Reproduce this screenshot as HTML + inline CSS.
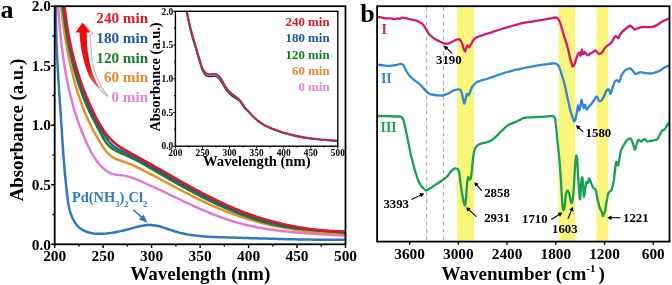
<!DOCTYPE html>
<html><head><meta charset="utf-8"><style>
html,body{margin:0;padding:0;background:#fff;width:672px;height:285px;overflow:hidden}
svg{display:block;will-change:transform}
text{font-family:"Liberation Serif",serif;font-weight:bold}
</style></head><body>
<svg width="672" height="285" viewBox="0 0 672 285" font-family="Liberation Serif" font-weight="bold"><defs><clipPath id="ca"><rect x="54.7" y="6.2" width="290.8" height="238.10000000000002"/></clipPath><clipPath id="ci"><rect x="175.4" y="11.3" width="162.4" height="134.89999999999998"/></clipPath><clipPath id="cb"><rect x="377.1" y="6.2" width="292.4" height="235.4"/></clipPath><linearGradient id="arrg" x1="0" y1="0" x2="0" y2="1"><stop offset="0" stop-color="#f00808"/><stop offset="0.7" stop-color="#ea1010"/><stop offset="1" stop-color="#f07070"/></linearGradient></defs><rect width="672" height="285" fill="#fff"/><text x="0.5" y="18.4" font-size="26" fill="#000" text-anchor="start" >a</text><g clip-path="url(#ca)" fill="none" stroke-width="2" stroke-linejoin="round" stroke-linecap="round"><path d="M55.93,2.01 L55.90,4.10 L55.88,6.18 L55.87,8.27 L55.87,10.36 L55.87,12.44 L55.88,14.53 L55.89,16.62 L55.91,18.71 L55.93,20.79 L55.97,22.88 L56.00,24.97 L56.04,27.06 L56.09,29.15 L56.14,31.24 L56.20,33.33 L56.26,35.42 L56.33,37.51 L56.40,39.59 L56.47,41.68 L56.55,43.77 L56.63,45.86 L56.72,47.95 L56.81,50.04 L56.91,52.13 L57.00,54.22 L57.11,56.31 L57.21,58.40 L57.32,60.49 L57.43,62.58 L57.54,64.67 L57.66,66.76 L57.78,68.85 L57.90,70.94 L58.02,73.03 L58.15,75.12 L58.27,77.21 L58.40,79.30 L58.53,81.39 L58.67,83.48 L58.80,85.57 L58.93,87.65 L59.07,89.74 L59.21,91.83 L59.35,93.92 L59.48,96.00 L59.62,98.09 L59.76,100.18 L59.90,102.26 L60.04,104.35 L60.18,106.43 L60.32,108.52 L60.46,110.60 L60.60,112.69 L60.74,114.77 L60.88,116.85 L61.02,118.94 L61.15,121.02 L61.29,123.10 L61.42,125.18 L61.56,127.26 L61.69,129.34 L61.82,131.43 L61.96,133.51 L62.09,135.59 L62.23,137.67 L62.37,139.75 L62.50,141.83 L62.64,143.91 L62.78,145.99 L62.92,148.07 L63.07,150.15 L63.22,152.23 L63.37,154.31 L63.52,156.39 L63.67,158.47 L63.83,160.55 L64.00,162.63 L64.16,164.72 L64.33,166.80 L64.51,168.88 L64.69,170.97 L64.87,173.06 L65.06,175.14 L65.25,177.23 L65.45,179.32 L65.66,181.41 L65.87,183.50 L66.09,185.59 L66.31,187.68 L66.54,189.77 L66.78,191.87 L67.02,193.96 L67.28,196.06 L67.54,198.16 L67.82,200.25 L68.13,202.33 L68.48,204.41 L68.87,206.47 L69.32,208.51 L69.82,210.53 L70.40,212.52 L71.05,214.49 L71.79,216.42 L72.62,218.32 L73.56,220.17 L74.61,221.98 L75.77,223.72 L77.06,225.36 L78.48,226.86 L80.04,228.20 L81.72,229.37 L83.50,230.39 L85.36,231.26 L87.28,231.99 L89.26,232.58 L91.28,233.05 L93.33,233.41 L95.42,233.66 L97.54,233.80 L99.67,233.86 L101.81,233.84 L103.95,233.74 L106.09,233.57 L108.22,233.35 L110.32,233.07 L112.41,232.76 L114.47,232.40 L116.51,232.02 L118.54,231.60 L120.55,231.15 L122.56,230.68 L124.56,230.20 L126.55,229.69 L128.55,229.18 L130.55,228.66 L132.56,228.13 L134.58,227.61 L136.61,227.08 L138.66,226.57 L140.72,226.08 L142.79,225.65 L144.86,225.30 L146.93,225.06 L148.98,224.94 L151.03,224.98 L153.06,225.14 L155.09,225.42 L157.10,225.81 L159.11,226.28 L161.11,226.83 L163.11,227.43 L165.11,228.08 L167.11,228.76 L169.10,229.45 L171.10,230.14 L173.11,230.81 L175.12,231.45 L177.14,232.04 L179.16,232.59 L181.19,233.10 L183.23,233.57 L185.27,234.00 L187.32,234.39 L189.38,234.75 L191.43,235.07 L193.50,235.36 L195.57,235.62 L197.64,235.86 L199.71,236.07 L201.79,236.26 L203.88,236.43 L205.96,236.57 L208.05,236.70 L210.14,236.82 L212.23,236.92 L214.32,237.01 L216.42,237.09 L218.51,237.16 L220.61,237.23 L222.70,237.30 L224.79,237.36 L226.89,237.42 L228.98,237.48 L231.08,237.55 L233.17,237.61 L235.26,237.67 L237.35,237.74 L239.44,237.80 L241.53,237.87 L243.63,237.93 L245.72,238.00 L247.81,238.06 L249.89,238.13 L251.98,238.19 L254.07,238.25 L256.16,238.32 L258.25,238.38 L260.34,238.44 L262.42,238.50 L264.51,238.56 L266.60,238.62 L268.69,238.68 L270.77,238.74 L272.86,238.80 L274.95,238.86 L277.03,238.91 L279.12,238.97 L281.21,239.02 L283.29,239.08 L285.38,239.13 L287.47,239.18 L289.56,239.23 L291.64,239.27 L293.73,239.32 L295.82,239.36 L297.90,239.41 L299.99,239.45 L302.08,239.48 L304.17,239.52 L306.26,239.56 L308.34,239.59 L310.43,239.62 L312.52,239.65 L314.61,239.68 L316.70,239.70 L318.79,239.72 L320.88,239.74 L322.97,239.76 L325.06,239.77 L327.16,239.79 L329.25,239.80 L331.34,239.80 L333.43,239.81 L335.53,239.81 L337.62,239.81 L339.72,239.80 L341.81,239.79 L343.91,239.78 L346.00,239.77" stroke="#2f78c4" stroke-width="2.5"/><path d="M57.78,1.98 L57.90,3.78 L58.03,5.58 L58.15,7.38 L58.29,9.18 L58.42,10.99 L58.56,12.79 L58.69,14.59 L58.84,16.39 L58.98,18.19 L59.13,19.99 L59.28,21.79 L59.44,23.59 L59.59,25.39 L59.76,27.19 L59.92,28.98 L60.09,30.78 L60.27,32.58 L60.45,34.37 L60.63,36.17 L60.82,37.96 L61.02,39.76 L61.21,41.55 L61.42,43.34 L61.63,45.13 L61.84,46.92 L62.06,48.71 L62.29,50.49 L62.52,52.28 L62.76,54.07 L63.00,55.85 L63.25,57.63 L63.51,59.41 L63.78,61.19 L64.05,62.97 L64.32,64.75 L64.61,66.52 L64.90,68.30 L65.20,70.07 L65.51,71.84 L65.82,73.61 L66.15,75.38 L66.48,77.14 L66.82,78.90 L67.16,80.67 L67.52,82.43 L67.88,84.18 L68.26,85.94 L68.64,87.69 L69.03,89.45 L69.43,91.20 L69.84,92.94 L70.26,94.69 L70.69,96.43 L71.13,98.17 L71.58,99.91 L72.03,101.65 L72.50,103.38 L72.98,105.11 L73.47,106.84 L73.97,108.57 L74.48,110.29 L75.01,112.02 L75.54,113.73 L76.09,115.45 L76.64,117.16 L77.21,118.87 L77.79,120.58 L78.38,122.29 L78.98,123.99 L79.60,125.69 L80.23,127.38 L80.87,129.08 L81.52,130.77 L82.19,132.45 L82.87,134.14 L83.56,135.82 L84.26,137.49 L84.98,139.17 L85.72,140.84 L86.46,142.51 L87.22,144.17 L88.00,145.82 L88.80,147.46 L89.62,149.09 L90.46,150.71 L91.32,152.31 L92.21,153.89 L93.13,155.44 L94.08,156.97 L95.06,158.47 L96.07,159.95 L97.12,161.39 L98.21,162.79 L99.33,164.16 L100.50,165.49 L101.71,166.78 L102.96,168.01 L104.27,169.18 L105.63,170.28 L107.04,171.28 L108.52,172.18 L110.06,172.96 L111.66,173.61 L113.34,174.12 L115.09,174.49 L116.88,174.77 L118.71,174.99 L120.55,175.18 L122.39,175.38 L124.22,175.63 L126.02,175.95 L127.77,176.36 L129.50,176.84 L131.20,177.39 L132.88,178.00 L134.54,178.64 L136.19,179.32 L137.84,180.01 L139.48,180.71 L141.12,181.41 L142.76,182.13 L144.40,182.85 L146.03,183.58 L147.67,184.32 L149.30,185.06 L150.93,185.80 L152.57,186.55 L154.20,187.31 L155.83,188.07 L157.45,188.83 L159.08,189.60 L160.71,190.37 L162.34,191.15 L163.97,191.92 L165.59,192.70 L167.22,193.48 L168.85,194.26 L170.48,195.04 L172.11,195.82 L173.73,196.60 L175.36,197.39 L176.99,198.17 L178.62,198.95 L180.25,199.72 L181.89,200.50 L183.52,201.27 L185.15,202.04 L186.79,202.81 L188.43,203.58 L190.07,204.34 L191.71,205.09 L193.35,205.85 L194.99,206.59 L196.64,207.33 L198.29,208.07 L199.94,208.80 L201.59,209.52 L203.24,210.24 L204.90,210.95 L206.56,211.65 L208.22,212.34 L209.89,213.02 L211.56,213.70 L213.23,214.36 L214.90,215.02 L216.58,215.67 L218.26,216.30 L219.95,216.93 L221.64,217.54 L223.33,218.14 L225.02,218.73 L226.72,219.31 L228.43,219.87 L230.14,220.43 L231.85,220.96 L233.57,221.49 L235.29,222.00 L237.01,222.49 L238.74,222.98 L240.48,223.44 L242.22,223.90 L243.96,224.34 L245.71,224.76 L247.46,225.18 L249.21,225.58 L250.97,225.97 L252.73,226.34 L254.49,226.71 L256.26,227.06 L258.03,227.40 L259.81,227.73 L261.58,228.05 L263.36,228.36 L265.14,228.66 L266.93,228.95 L268.71,229.23 L270.50,229.50 L272.29,229.76 L274.08,230.01 L275.88,230.25 L277.67,230.49 L279.47,230.71 L281.27,230.93 L283.07,231.14 L284.87,231.35 L286.67,231.54 L288.47,231.73 L290.28,231.91 L292.08,232.09 L293.89,232.26 L295.69,232.43 L297.50,232.59 L299.30,232.74 L301.11,232.89 L302.91,233.04 L304.72,233.18 L306.52,233.31 L308.33,233.44 L310.13,233.57 L311.94,233.70 L313.74,233.82 L315.54,233.94 L317.34,234.06 L319.14,234.17 L320.93,234.29 L322.73,234.40 L324.53,234.51 L326.32,234.61 L328.11,234.72 L329.90,234.83 L331.68,234.94 L333.47,235.04 L335.25,235.15 L337.03,235.26 L338.81,235.36 L340.58,235.47 L342.35,235.58 L344.12,235.69 L345.88,235.81" stroke="#e07ad6" stroke-width="2.5"/><path d="M60.40,2.01 L60.61,3.73 L60.82,5.46 L61.03,7.18 L61.24,8.91 L61.45,10.64 L61.67,12.36 L61.89,14.09 L62.11,15.81 L62.34,17.54 L62.56,19.27 L62.80,20.99 L63.03,22.71 L63.27,24.44 L63.51,26.16 L63.76,27.88 L64.01,29.61 L64.26,31.33 L64.52,33.05 L64.79,34.77 L65.06,36.49 L65.33,38.20 L65.61,39.92 L65.90,41.64 L66.19,43.35 L66.48,45.06 L66.78,46.77 L67.09,48.49 L67.40,50.19 L67.72,51.90 L68.05,53.61 L68.38,55.31 L68.72,57.02 L69.06,58.72 L69.42,60.42 L69.78,62.11 L70.15,63.81 L70.52,65.50 L70.90,67.19 L71.29,68.88 L71.69,70.57 L72.10,72.26 L72.51,73.94 L72.94,75.62 L73.37,77.30 L73.81,78.98 L74.26,80.65 L74.72,82.32 L75.19,83.99 L75.66,85.65 L76.15,87.32 L76.65,88.98 L77.15,90.63 L77.67,92.29 L78.20,93.94 L78.74,95.59 L79.28,97.23 L79.84,98.88 L80.41,100.51 L80.99,102.15 L81.58,103.78 L82.19,105.41 L82.80,107.04 L83.43,108.66 L84.07,110.28 L84.72,111.89 L85.38,113.50 L86.05,115.11 L86.74,116.71 L87.44,118.31 L88.15,119.90 L88.88,121.48 L89.61,123.06 L90.36,124.64 L91.13,126.21 L91.90,127.77 L92.69,129.32 L93.50,130.87 L94.32,132.40 L95.15,133.94 L95.99,135.46 L96.85,136.97 L97.73,138.48 L98.61,139.97 L99.52,141.46 L100.43,142.93 L101.37,144.40 L102.31,145.85 L103.27,147.30 L104.26,148.72 L105.28,150.11 L106.34,151.46 L107.45,152.75 L108.63,153.98 L109.88,155.13 L111.21,156.19 L112.63,157.15 L114.14,158.01 L115.73,158.78 L117.37,159.48 L119.02,160.12 L120.69,160.72 L122.36,161.30 L124.02,161.87 L125.68,162.44 L127.32,163.02 L128.95,163.63 L130.55,164.27 L132.14,164.94 L133.71,165.64 L135.27,166.37 L136.82,167.11 L138.37,167.87 L139.91,168.63 L141.45,169.41 L142.98,170.18 L144.52,170.97 L146.06,171.75 L147.59,172.54 L149.13,173.34 L150.66,174.14 L152.19,174.94 L153.73,175.75 L155.26,176.55 L156.80,177.36 L158.33,178.18 L159.86,178.99 L161.40,179.81 L162.93,180.62 L164.47,181.44 L166.00,182.26 L167.54,183.08 L169.07,183.90 L170.61,184.72 L172.15,185.54 L173.68,186.36 L175.22,187.18 L176.76,187.99 L178.30,188.81 L179.85,189.62 L181.39,190.43 L182.94,191.24 L184.48,192.05 L186.03,192.85 L187.58,193.65 L189.13,194.45 L190.68,195.25 L192.24,196.03 L193.79,196.82 L195.35,197.60 L196.91,198.38 L198.48,199.15 L200.04,199.91 L201.61,200.67 L203.18,201.43 L204.75,202.18 L206.32,202.92 L207.90,203.65 L209.48,204.38 L211.06,205.10 L212.65,205.81 L214.24,206.52 L215.83,207.21 L217.42,207.90 L219.02,208.58 L220.62,209.25 L222.23,209.91 L223.83,210.57 L225.45,211.21 L227.06,211.84 L228.68,212.46 L230.30,213.07 L231.93,213.68 L233.56,214.27 L235.19,214.85 L236.82,215.42 L238.46,215.99 L240.10,216.54 L241.75,217.08 L243.40,217.62 L245.05,218.14 L246.70,218.66 L248.36,219.17 L250.02,219.66 L251.68,220.15 L253.35,220.63 L255.01,221.10 L256.68,221.56 L258.36,222.01 L260.03,222.45 L261.71,222.88 L263.39,223.30 L265.08,223.72 L266.76,224.12 L268.45,224.52 L270.14,224.91 L271.83,225.29 L273.53,225.66 L275.23,226.02 L276.92,226.37 L278.63,226.71 L280.33,227.05 L282.03,227.38 L283.74,227.69 L285.45,228.00 L287.16,228.30 L288.87,228.60 L290.59,228.88 L292.30,229.16 L294.02,229.42 L295.74,229.68 L297.46,229.93 L299.18,230.18 L300.90,230.41 L302.63,230.64 L304.36,230.86 L306.08,231.07 L307.81,231.27 L309.54,231.47 L311.27,231.65 L313.00,231.83 L314.74,232.00 L316.47,232.17 L318.21,232.32 L319.94,232.47 L321.68,232.61 L323.42,232.74 L325.15,232.87 L326.89,232.99 L328.63,233.10 L330.37,233.20 L332.11,233.30 L333.86,233.39 L335.60,233.47 L337.34,233.54 L339.08,233.61 L340.82,233.67 L342.57,233.72 L344.31,233.76 L346.05,233.80" stroke="#ea8e2c" stroke-width="2.5"/><path d="M62.26,2.07 L62.45,3.75 L62.64,5.44 L62.84,7.12 L63.04,8.81 L63.25,10.50 L63.47,12.19 L63.68,13.88 L63.91,15.58 L64.13,17.27 L64.36,18.96 L64.60,20.66 L64.85,22.35 L65.09,24.05 L65.35,25.74 L65.61,27.44 L65.87,29.13 L66.14,30.83 L66.42,32.52 L66.70,34.22 L66.99,35.91 L67.29,37.60 L67.59,39.29 L67.90,40.99 L68.22,42.68 L68.54,44.36 L68.87,46.05 L69.21,47.74 L69.56,49.42 L69.91,51.11 L70.27,52.79 L70.64,54.47 L71.01,56.14 L71.40,57.82 L71.79,59.49 L72.19,61.16 L72.60,62.83 L73.02,64.50 L73.44,66.16 L73.88,67.82 L74.32,69.47 L74.77,71.13 L75.23,72.78 L75.70,74.43 L76.18,76.07 L76.67,77.71 L77.17,79.35 L77.68,80.98 L78.20,82.61 L78.73,84.23 L79.27,85.85 L79.81,87.47 L80.37,89.08 L80.94,90.69 L81.52,92.29 L82.11,93.89 L82.72,95.48 L83.33,97.07 L83.95,98.66 L84.59,100.23 L85.24,101.81 L85.89,103.37 L86.56,104.93 L87.25,106.49 L87.94,108.04 L88.64,109.58 L89.36,111.12 L90.09,112.65 L90.83,114.18 L91.58,115.71 L92.34,117.23 L93.11,118.75 L93.89,120.26 L94.67,121.78 L95.46,123.30 L96.26,124.82 L97.06,126.34 L97.86,127.86 L98.67,129.39 L99.49,130.92 L100.30,132.46 L101.12,134.00 L101.94,135.55 L102.76,137.10 L103.61,138.64 L104.49,140.14 L105.41,141.59 L106.40,142.97 L107.46,144.27 L108.60,145.47 L109.82,146.58 L111.10,147.62 L112.45,148.58 L113.86,149.48 L115.31,150.32 L116.80,151.11 L118.33,151.87 L119.89,152.59 L121.47,153.29 L123.06,153.98 L124.66,154.66 L126.26,155.34 L127.85,156.03 L129.43,156.74 L131.00,157.47 L132.54,158.21 L134.08,158.98 L135.60,159.76 L137.11,160.55 L138.61,161.36 L140.11,162.18 L141.59,163.01 L143.07,163.85 L144.55,164.69 L146.02,165.54 L147.49,166.40 L148.95,167.26 L150.42,168.12 L151.89,168.98 L153.36,169.84 L154.83,170.70 L156.30,171.56 L157.77,172.42 L159.25,173.28 L160.72,174.14 L162.20,175.00 L163.68,175.85 L165.16,176.71 L166.64,177.56 L168.13,178.41 L169.61,179.26 L171.10,180.11 L172.59,180.96 L174.08,181.80 L175.58,182.64 L177.07,183.48 L178.57,184.32 L180.06,185.15 L181.56,185.99 L183.07,186.82 L184.57,187.64 L186.08,188.46 L187.58,189.28 L189.09,190.10 L190.61,190.91 L192.12,191.72 L193.64,192.52 L195.16,193.32 L196.68,194.12 L198.20,194.91 L199.73,195.70 L201.25,196.48 L202.78,197.25 L204.32,198.03 L205.85,198.79 L207.39,199.56 L208.93,200.31 L210.47,201.06 L212.01,201.81 L213.56,202.55 L215.11,203.28 L216.66,204.01 L218.21,204.73 L219.77,205.45 L221.33,206.15 L222.89,206.86 L224.46,207.55 L226.03,208.24 L227.60,208.92 L229.17,209.59 L230.75,210.26 L232.33,210.92 L233.91,211.57 L235.50,212.21 L237.08,212.85 L238.68,213.47 L240.27,214.09 L241.87,214.70 L243.47,215.30 L245.07,215.90 L246.68,216.48 L248.29,217.05 L249.90,217.61 L251.52,218.16 L253.14,218.71 L254.76,219.24 L256.38,219.76 L258.01,220.27 L259.65,220.76 L261.28,221.25 L262.92,221.72 L264.56,222.18 L266.21,222.63 L267.86,223.07 L269.51,223.49 L271.17,223.90 L272.83,224.30 L274.50,224.68 L276.16,225.05 L277.83,225.41 L279.51,225.75 L281.19,226.08 L282.87,226.39 L284.56,226.68 L286.25,226.97 L287.94,227.23 L289.64,227.49 L291.33,227.73 L293.04,227.97 L294.74,228.19 L296.45,228.40 L298.15,228.60 L299.86,228.79 L301.58,228.98 L303.29,229.16 L305.00,229.33 L306.72,229.49 L308.43,229.65 L310.15,229.80 L311.87,229.95 L313.58,230.09 L315.30,230.23 L317.02,230.37 L318.73,230.50 L320.45,230.63 L322.16,230.77 L323.88,230.90 L325.59,231.03 L327.30,231.17 L329.01,231.30 L330.72,231.44 L332.42,231.58 L334.13,231.73 L335.83,231.88 L337.53,232.03 L339.22,232.19 L340.91,232.35 L342.60,232.52 L344.29,232.70 L345.97,232.89" stroke="#17802a" stroke-width="2.6"/><path d="M63.21,2.04 L63.39,3.72 L63.57,5.40 L63.76,7.09 L63.96,8.77 L64.15,10.46 L64.36,12.14 L64.57,13.82 L64.79,15.51 L65.01,17.19 L65.24,18.88 L65.47,20.56 L65.71,22.24 L65.96,23.93 L66.22,25.61 L66.48,27.29 L66.74,28.97 L67.02,30.65 L67.30,32.33 L67.59,34.01 L67.88,35.69 L68.18,37.37 L68.49,39.04 L68.81,40.72 L69.13,42.39 L69.47,44.06 L69.80,45.73 L70.15,47.40 L70.51,49.07 L70.87,50.73 L71.24,52.39 L71.62,54.05 L72.01,55.71 L72.40,57.37 L72.80,59.02 L73.22,60.68 L73.64,62.32 L74.07,63.97 L74.50,65.62 L74.95,67.26 L75.41,68.90 L75.87,70.53 L76.35,72.16 L76.83,73.79 L77.32,75.42 L77.82,77.05 L78.33,78.67 L78.86,80.28 L79.39,81.90 L79.93,83.51 L80.48,85.11 L81.04,86.71 L81.61,88.31 L82.19,89.91 L82.78,91.50 L83.38,93.08 L83.99,94.67 L84.61,96.24 L85.25,97.82 L85.89,99.39 L86.54,100.95 L87.21,102.51 L87.89,104.07 L88.57,105.62 L89.27,107.16 L89.98,108.70 L90.70,110.24 L91.44,111.77 L92.18,113.30 L92.94,114.82 L93.70,116.33 L94.48,117.84 L95.27,119.34 L96.07,120.84 L96.89,122.34 L97.71,123.82 L98.55,125.30 L99.40,126.78 L100.26,128.25 L101.13,129.71 L102.02,131.17 L102.91,132.63 L103.82,134.07 L104.74,135.51 L105.67,136.95 L106.62,138.37 L107.60,139.76 L108.62,141.11 L109.69,142.41 L110.82,143.64 L112.02,144.79 L113.29,145.86 L114.62,146.85 L116.01,147.78 L117.45,148.66 L118.93,149.49 L120.44,150.28 L121.97,151.04 L123.52,151.79 L125.08,152.52 L126.64,153.24 L128.20,153.98 L129.74,154.72 L131.27,155.48 L132.80,156.25 L134.31,157.02 L135.81,157.81 L137.31,158.60 L138.80,159.41 L140.28,160.22 L141.76,161.04 L143.23,161.86 L144.70,162.69 L146.17,163.52 L147.63,164.36 L149.10,165.20 L150.56,166.04 L152.02,166.88 L153.49,167.73 L154.96,168.57 L156.42,169.42 L157.89,170.27 L159.36,171.12 L160.82,171.97 L162.29,172.83 L163.76,173.68 L165.24,174.53 L166.71,175.38 L168.18,176.23 L169.65,177.09 L171.13,177.94 L172.61,178.79 L174.08,179.63 L175.56,180.48 L177.04,181.33 L178.53,182.17 L180.01,183.01 L181.50,183.85 L182.98,184.69 L184.47,185.53 L185.96,186.36 L187.45,187.19 L188.94,188.01 L190.44,188.84 L191.94,189.66 L193.44,190.47 L194.94,191.28 L196.44,192.09 L197.95,192.90 L199.45,193.69 L200.96,194.49 L202.48,195.28 L203.99,196.06 L205.51,196.84 L207.03,197.61 L208.55,198.38 L210.07,199.14 L211.60,199.90 L213.13,200.64 L214.66,201.39 L216.20,202.12 L217.74,202.85 L219.28,203.57 L220.82,204.28 L222.37,204.99 L223.92,205.69 L225.47,206.38 L227.03,207.06 L228.59,207.73 L230.15,208.40 L231.72,209.05 L233.29,209.70 L234.86,210.34 L236.44,210.97 L238.02,211.59 L239.60,212.20 L241.19,212.80 L242.78,213.39 L244.37,213.97 L245.97,214.54 L247.57,215.11 L249.17,215.66 L250.78,216.21 L252.38,216.74 L254.00,217.27 L255.61,217.78 L257.23,218.29 L258.85,218.79 L260.47,219.28 L262.10,219.76 L263.73,220.23 L265.36,220.69 L267.00,221.14 L268.63,221.58 L270.27,222.01 L271.92,222.44 L273.56,222.85 L275.21,223.26 L276.86,223.65 L278.51,224.04 L280.16,224.42 L281.82,224.79 L283.48,225.14 L285.14,225.49 L286.81,225.83 L288.47,226.17 L290.14,226.49 L291.81,226.80 L293.48,227.10 L295.15,227.40 L296.83,227.68 L298.51,227.96 L300.19,228.23 L301.87,228.48 L303.55,228.73 L305.24,228.97 L306.92,229.20 L308.61,229.42 L310.30,229.64 L311.99,229.84 L313.68,230.03 L315.38,230.22 L317.07,230.39 L318.77,230.56 L320.47,230.71 L322.17,230.86 L323.87,231.00 L325.57,231.13 L327.28,231.25 L328.98,231.36 L330.69,231.46 L332.39,231.56 L334.10,231.64 L335.81,231.71 L337.52,231.78 L339.23,231.84 L340.94,231.88 L342.65,231.92 L344.37,231.95 L346.08,231.97" stroke="#22559e" stroke-width="2.2"/><path d="M64.20,1.98 L64.35,3.67 L64.51,5.36 L64.68,7.05 L64.86,8.74 L65.05,10.43 L65.24,12.11 L65.44,13.79 L65.64,15.47 L65.86,17.15 L66.08,18.83 L66.31,20.51 L66.55,22.19 L66.80,23.86 L67.05,25.53 L67.31,27.20 L67.58,28.87 L67.86,30.54 L68.14,32.20 L68.44,33.86 L68.74,35.53 L69.05,37.19 L69.37,38.84 L69.69,40.50 L70.03,42.15 L70.37,43.80 L70.72,45.45 L71.08,47.10 L71.45,48.74 L71.82,50.39 L72.21,52.03 L72.60,53.67 L73.01,55.30 L73.42,56.94 L73.84,58.57 L74.26,60.20 L74.70,61.82 L75.15,63.45 L75.60,65.07 L76.06,66.69 L76.53,68.31 L77.02,69.92 L77.51,71.53 L78.01,73.14 L78.51,74.75 L79.03,76.36 L79.56,77.96 L80.09,79.56 L80.64,81.15 L81.19,82.75 L81.75,84.34 L82.33,85.92 L82.91,87.51 L83.50,89.09 L84.10,90.67 L84.71,92.25 L85.33,93.82 L85.96,95.39 L86.60,96.96 L87.25,98.52 L87.91,100.08 L88.58,101.64 L89.25,103.19 L89.94,104.74 L90.64,106.29 L91.35,107.84 L92.06,109.38 L92.79,110.92 L93.53,112.45 L94.28,113.98 L95.04,115.50 L95.81,117.02 L96.60,118.53 L97.41,120.03 L98.23,121.51 L99.06,122.99 L99.92,124.45 L100.79,125.90 L101.68,127.34 L102.60,128.75 L103.53,130.16 L104.49,131.54 L105.47,132.90 L106.47,134.25 L107.50,135.57 L108.56,136.86 L109.65,138.13 L110.77,139.36 L111.93,140.55 L113.13,141.70 L114.38,142.80 L115.67,143.85 L117.00,144.85 L118.37,145.82 L119.76,146.75 L121.18,147.66 L122.62,148.54 L124.08,149.39 L125.55,150.24 L127.03,151.07 L128.51,151.89 L129.99,152.71 L131.46,153.53 L132.94,154.35 L134.42,155.17 L135.89,155.98 L137.36,156.80 L138.84,157.61 L140.31,158.43 L141.78,159.24 L143.25,160.05 L144.72,160.87 L146.19,161.69 L147.66,162.51 L149.13,163.33 L150.60,164.15 L152.07,164.97 L153.53,165.80 L155.00,166.63 L156.47,167.46 L157.94,168.29 L159.40,169.13 L160.87,169.96 L162.34,170.80 L163.80,171.64 L165.27,172.47 L166.74,173.31 L168.21,174.15 L169.68,174.99 L171.14,175.83 L172.61,176.67 L174.08,177.51 L175.56,178.35 L177.03,179.18 L178.50,180.02 L179.97,180.85 L181.45,181.69 L182.92,182.52 L184.40,183.35 L185.88,184.18 L187.36,185.00 L188.84,185.82 L190.32,186.64 L191.81,187.46 L193.29,188.27 L194.78,189.09 L196.27,189.89 L197.76,190.70 L199.25,191.50 L200.74,192.29 L202.24,193.08 L203.74,193.87 L205.24,194.65 L206.74,195.43 L208.24,196.20 L209.75,196.97 L211.26,197.73 L212.77,198.49 L214.29,199.24 L215.80,199.98 L217.32,200.72 L218.85,201.45 L220.37,202.18 L221.90,202.89 L223.43,203.61 L224.96,204.31 L226.50,205.01 L228.04,205.69 L229.59,206.38 L231.13,207.05 L232.68,207.71 L234.24,208.37 L235.79,209.02 L237.35,209.65 L238.92,210.28 L240.49,210.90 L242.06,211.52 L243.63,212.12 L245.21,212.71 L246.79,213.30 L248.37,213.88 L249.96,214.45 L251.55,215.00 L253.15,215.55 L254.74,216.10 L256.34,216.63 L257.95,217.15 L259.55,217.66 L261.16,218.17 L262.77,218.66 L264.39,219.15 L266.00,219.63 L267.62,220.10 L269.25,220.56 L270.87,221.01 L272.50,221.45 L274.13,221.88 L275.76,222.30 L277.40,222.72 L279.03,223.12 L280.67,223.52 L282.32,223.90 L283.96,224.28 L285.61,224.65 L287.26,225.00 L288.91,225.35 L290.56,225.69 L292.22,226.02 L293.88,226.34 L295.54,226.65 L297.20,226.95 L298.86,227.24 L300.53,227.53 L302.20,227.80 L303.87,228.06 L305.54,228.31 L307.21,228.56 L308.88,228.79 L310.56,229.02 L312.24,229.23 L313.92,229.44 L315.60,229.63 L317.28,229.82 L318.96,230.00 L320.65,230.16 L322.34,230.32 L324.02,230.47 L325.71,230.60 L327.40,230.73 L329.10,230.85 L330.79,230.96 L332.48,231.05 L334.18,231.14 L335.87,231.22 L337.57,231.29 L339.27,231.35 L340.97,231.39 L342.67,231.43 L344.37,231.46 L346.07,231.48" stroke="#da1c22" stroke-width="2.6"/></g><rect x="54.7" y="6.2" width="290.8" height="238.10000000000002" fill="none" stroke="#000" stroke-width="1.8"/><path d="M54.70,244.3 V247.9 M78.93,244.3 V246.5 M103.17,244.3 V247.9 M127.40,244.3 V246.5 M151.63,244.3 V247.9 M175.87,244.3 V246.5 M200.10,244.3 V247.9 M224.33,244.3 V246.5 M248.57,244.3 V247.9 M272.80,244.3 V246.5 M297.03,244.3 V247.9 M321.27,244.3 V246.5 M345.50,244.3 V247.9 M54.7,244.30 H51.1 M54.7,214.54 H52.5 M54.7,184.78 H51.1 M54.7,155.01 H52.5 M54.7,125.25 H51.1 M54.7,95.49 H52.5 M54.7,65.72 H51.1 M54.7,35.96 H52.5 M54.7,6.20 H51.1" stroke="#000" stroke-width="1.4" fill="none"/><text x="54.70" y="261.0" font-size="15.4" fill="#000" text-anchor="middle" >200</text><text x="103.17" y="261.0" font-size="15.4" fill="#000" text-anchor="middle" >250</text><text x="151.63" y="261.0" font-size="15.4" fill="#000" text-anchor="middle" >300</text><text x="200.10" y="261.0" font-size="15.4" fill="#000" text-anchor="middle" >350</text><text x="248.57" y="261.0" font-size="15.4" fill="#000" text-anchor="middle" >400</text><text x="297.03" y="261.0" font-size="15.4" fill="#000" text-anchor="middle" >450</text><text x="345.50" y="261.0" font-size="15.4" fill="#000" text-anchor="middle" >500</text><text x="51.0" y="249.50" font-size="15.4" fill="#000" text-anchor="end" >0.0</text><text x="51.0" y="189.97" font-size="15.4" fill="#000" text-anchor="end" >0.5</text><text x="51.0" y="130.45" font-size="15.4" fill="#000" text-anchor="end" >1.0</text><text x="51.0" y="70.92" font-size="15.4" fill="#000" text-anchor="end" >1.5</text><text x="51.0" y="11.40" font-size="15.4" fill="#000" text-anchor="end" >2.0</text><text x="200.3" y="279.7" font-size="19.0" fill="#000" text-anchor="middle" >Wavelength (nm)</text><text x="0" y="0" font-size="18.8" fill="#000" text-anchor="middle" transform="translate(22.6,130) rotate(-90)">Absorbance (a.u.)</text><text x="148.2" y="23.40" font-size="15.2" fill="#dc1a22" text-anchor="end" >240 min</text><text x="148.2" y="43.00" font-size="15.2" fill="#1f58a0" text-anchor="end" >180 min</text><text x="148.2" y="62.60" font-size="15.2" fill="#178023" text-anchor="end" >120 min</text><text x="148.2" y="82.20" font-size="15.2" fill="#e88a2c" text-anchor="end" >60 min</text><text x="148.2" y="101.80" font-size="15.2" fill="#e486d6" text-anchor="end" >0 min</text><path d="M83.8,24 L92.6,33.4 L90.2,34.6 C90.4,46 91,58 94,69 C97,80 101.5,89 108,95.8 L107.2,96.2 C100.5,91.5 96,85 93,78" fill="none" stroke="#b8b8b8" stroke-width="1.1" stroke-linejoin="round"/><path d="M82.5,22.6 L90.2,32.6 L86.6,32.6 C86.8,46 88,58 91.5,70 C93.5,77 96.5,83 100.4,88.6 C96,86.5 92.5,82 89.5,77 C85.5,68 81.8,55 80.6,44 C79.9,39 79.6,36 79.6,32.6 L75.5,32.6 Z" fill="url(#arrg)"/><text x="72" y="202.4" font-size="14.4" fill="#2f78c4">Pd(NH<tspan font-size="8.6" dy="4.4">3</tspan><tspan dy="-4.4">)</tspan><tspan font-size="8.6" dy="4.4">2</tspan><tspan dy="-4.4">Cl</tspan><tspan font-size="8.6" dy="4.4">2</tspan></text><path d="M133.5,209.8 L143.5,219" stroke="#2f78c4" stroke-width="1.6" fill="none"/><path d="M147.5,222.8 L138.8,219.6 L143.6,214.4 Z" fill="#2f78c4"/><rect x="175.4" y="11.3" width="162.4" height="134.89999999999998" fill="#fff"/><g clip-path="url(#ci)" fill="none" stroke-linejoin="round"><path d="M186.20,10.30 C186.58,12.13 187.80,18.05 188.50,21.30 C189.20,24.55 189.65,26.80 190.40,29.80 C191.15,32.80 192.07,36.05 193.00,39.30 C193.93,42.55 195.12,46.30 196.00,49.30 C196.88,52.30 197.58,54.88 198.30,57.30 C199.02,59.72 199.65,61.72 200.30,63.80 C200.95,65.88 201.50,68.13 202.20,69.80 C202.90,71.47 203.75,72.80 204.50,73.80 C205.25,74.80 205.95,75.35 206.70,75.80 C207.45,76.25 208.12,76.42 209.00,76.50 C209.88,76.58 210.92,76.33 212.00,76.30 C213.08,76.27 214.42,76.00 215.50,76.30 C216.58,76.60 217.50,77.20 218.50,78.10 C219.50,79.00 220.58,80.37 221.50,81.70 C222.42,83.03 223.08,84.58 224.00,86.10 C224.92,87.62 226.00,89.46 227.00,90.80 C228.00,92.14 229.00,93.20 230.00,94.15 C231.00,95.10 232.00,95.80 233.00,96.53 C234.00,97.25 235.00,97.81 236.00,98.50 C237.00,99.19 238.00,99.72 239.00,100.68 C240.00,101.64 241.00,102.94 242.00,104.25 C243.00,105.56 244.00,107.34 245.00,108.53 C246.00,109.72 246.92,110.30 248.00,111.41 C249.08,112.51 250.33,113.94 251.50,115.14 C252.67,116.34 253.65,117.41 255.00,118.61 C256.35,119.80 258.10,121.19 259.60,122.31 C261.10,123.42 262.60,124.51 264.00,125.31 C265.40,126.11 266.17,126.32 268.00,127.11 C269.83,127.89 272.33,129.01 275.00,130.01 C277.67,131.01 280.42,132.06 284.00,133.11 C287.58,134.16 291.78,135.34 296.50,136.31 C301.22,137.27 307.05,138.22 312.30,138.91 C317.55,139.59 323.72,140.04 328.00,140.41 C332.28,140.77 336.33,140.99 338.00,141.11" stroke="#1e2444" stroke-width="1.7"/><path d="M186.20,9.20 C186.58,11.03 187.80,16.95 188.50,20.20 C189.20,23.45 189.65,25.70 190.40,28.70 C191.15,31.70 192.07,34.95 193.00,38.20 C193.93,41.45 195.12,45.20 196.00,48.20 C196.88,51.20 197.58,53.78 198.30,56.20 C199.02,58.62 199.65,60.62 200.30,62.70 C200.95,64.78 201.50,67.03 202.20,68.70 C202.90,70.37 203.75,71.70 204.50,72.70 C205.25,73.70 205.95,74.25 206.70,74.70 C207.45,75.15 208.12,75.32 209.00,75.40 C209.88,75.48 210.92,75.23 212.00,75.20 C213.08,75.17 214.42,74.90 215.50,75.20 C216.58,75.50 217.50,76.10 218.50,77.00 C219.50,77.90 220.58,79.27 221.50,80.60 C222.42,81.93 223.08,83.48 224.00,85.00 C224.92,86.52 226.00,88.35 227.00,89.70 C228.00,91.05 229.00,92.14 230.00,93.12 C231.00,94.11 232.00,94.84 233.00,95.60 C234.00,96.37 235.00,96.96 236.00,97.69 C237.00,98.42 238.00,98.98 239.00,99.97 C240.00,100.97 241.00,102.31 242.00,103.65 C243.00,105.00 244.00,106.81 245.00,108.04 C246.00,109.26 246.92,109.88 248.00,111.02 C249.08,112.16 250.33,113.66 251.50,114.88 C252.67,116.11 253.65,117.17 255.00,118.36 C256.35,119.56 258.10,120.95 259.60,122.06 C261.10,123.18 262.60,124.26 264.00,125.06 C265.40,125.86 266.17,126.08 268.00,126.86 C269.83,127.65 272.33,128.76 275.00,129.76 C277.67,130.76 280.42,131.81 284.00,132.86 C287.58,133.91 291.78,135.10 296.50,136.06 C301.22,137.03 307.05,137.98 312.30,138.66 C317.55,139.35 323.72,139.80 328.00,140.16 C332.28,140.53 336.33,140.75 338.00,140.86" stroke="#7c96d0" stroke-width="1.2"/><path d="M186.20,8.00 C186.58,9.83 187.80,15.75 188.50,19.00 C189.20,22.25 189.65,24.50 190.40,27.50 C191.15,30.50 192.07,33.75 193.00,37.00 C193.93,40.25 195.12,44.00 196.00,47.00 C196.88,50.00 197.58,52.58 198.30,55.00 C199.02,57.42 199.65,59.42 200.30,61.50 C200.95,63.58 201.50,65.83 202.20,67.50 C202.90,69.17 203.75,70.50 204.50,71.50 C205.25,72.50 205.95,73.05 206.70,73.50 C207.45,73.95 208.12,74.12 209.00,74.20 C209.88,74.28 210.92,74.03 212.00,74.00 C213.08,73.97 214.42,73.70 215.50,74.00 C216.58,74.30 217.50,74.90 218.50,75.80 C219.50,76.70 220.58,78.07 221.50,79.40 C222.42,80.73 223.08,82.28 224.00,83.80 C224.92,85.32 226.00,87.13 227.00,88.50 C228.00,89.87 229.00,90.98 230.00,92.00 C231.00,93.02 232.00,93.80 233.00,94.60 C234.00,95.40 235.00,96.03 236.00,96.80 C237.00,97.57 238.00,98.17 239.00,99.20 C240.00,100.23 241.00,101.62 242.00,103.00 C243.00,104.38 244.00,106.23 245.00,107.50 C246.00,108.77 246.92,109.42 248.00,110.60 C249.08,111.78 250.33,113.35 251.50,114.60 C252.67,115.85 253.65,116.90 255.00,118.10 C256.35,119.30 258.10,120.68 259.60,121.80 C261.10,122.92 262.60,124.00 264.00,124.80 C265.40,125.60 266.17,125.82 268.00,126.60 C269.83,127.38 272.33,128.50 275.00,129.50 C277.67,130.50 280.42,131.55 284.00,132.60 C287.58,133.65 291.78,134.83 296.50,135.80 C301.22,136.77 307.05,137.72 312.30,138.40 C317.55,139.08 323.72,139.53 328.00,139.90 C332.28,140.27 336.33,140.48 338.00,140.60" stroke="#b82a3c" stroke-width="1.9"/></g><rect x="175.4" y="11.3" width="162.4" height="134.89999999999998" fill="none" stroke="#000" stroke-width="1.4"/><path d="M175.40,146.2 V148.39999999999998 M188.93,146.2 V147.6 M202.47,146.2 V148.39999999999998 M216.00,146.2 V147.6 M229.53,146.2 V148.39999999999998 M243.07,146.2 V147.6 M256.60,146.2 V148.39999999999998 M270.13,146.2 V147.6 M283.67,146.2 V148.39999999999998 M297.20,146.2 V147.6 M310.73,146.2 V148.39999999999998 M324.27,146.2 V147.6 M337.80,146.2 V148.39999999999998 M175.4,146.20 H173.20000000000002 M175.4,129.34 H174.0 M175.4,112.47 H173.20000000000002 M175.4,95.61 H174.0 M175.4,78.75 H173.20000000000002 M175.4,61.89 H174.0 M175.4,45.03 H173.20000000000002 M175.4,28.16 H174.0 M175.4,11.30 H173.20000000000002" stroke="#000" stroke-width="1.1" fill="none"/><text x="175.40" y="155.7" font-size="9.4" fill="#000" text-anchor="middle" >200</text><text x="202.47" y="155.7" font-size="9.4" fill="#000" text-anchor="middle" >250</text><text x="229.53" y="155.7" font-size="9.4" fill="#000" text-anchor="middle" >300</text><text x="256.60" y="155.7" font-size="9.4" fill="#000" text-anchor="middle" >350</text><text x="283.67" y="155.7" font-size="9.4" fill="#000" text-anchor="middle" >400</text><text x="310.73" y="155.7" font-size="9.4" fill="#000" text-anchor="middle" >450</text><text x="337.80" y="155.7" font-size="9.4" fill="#000" text-anchor="middle" >500</text><text x="173.2" y="149.40" font-size="9.4" fill="#000" text-anchor="end" >0.0</text><text x="173.2" y="115.67" font-size="9.4" fill="#000" text-anchor="end" >0.5</text><text x="173.2" y="81.95" font-size="9.4" fill="#000" text-anchor="end" >1.0</text><text x="173.2" y="48.23" font-size="9.4" fill="#000" text-anchor="end" >1.5</text><text x="173.2" y="14.50" font-size="9.4" fill="#000" text-anchor="end" >2.0</text><text x="256.8" y="166.2" font-size="14.6" fill="#000" text-anchor="middle" >Wavelength (nm)</text><text x="0" y="0" font-size="14.4" fill="#000" text-anchor="middle" transform="translate(160.4,77) rotate(-90)">Absorbance (a.u.)</text><text x="329.6" y="25.90" font-size="12.9" fill="#dc1a22" text-anchor="end" >240 min</text><text x="329.6" y="42.20" font-size="12.9" fill="#1f58a0" text-anchor="end" >180 min</text><text x="329.6" y="58.50" font-size="12.9" fill="#178023" text-anchor="end" >120 min</text><text x="329.6" y="74.80" font-size="12.9" fill="#e88a2c" text-anchor="end" >60 min</text><text x="329.6" y="91.10" font-size="12.9" fill="#e486d6" text-anchor="end" >0 min</text><text x="360.2" y="21.6" font-size="26" fill="#000" text-anchor="start" >b</text><rect x="457.1" y="6.2" width="16.90" height="235.4" fill="#faf67c"/><rect x="558.6" y="6.2" width="16.60" height="235.4" fill="#faf67c"/><rect x="596.4" y="6.2" width="11.80" height="235.4" fill="#faf67c"/><path d="M426.7,6.9 V241.6" stroke="#a0a0a0" stroke-width="1.0" stroke-dasharray="3.7,3.7" fill="none"/><path d="M443.6,6.9 V241.6" stroke="#a0a0a0" stroke-width="1.0" stroke-dasharray="3.7,3.7" fill="none"/><g clip-path="url(#cb)" fill="none" stroke-width="2.3" stroke-linejoin="round" stroke-linecap="round"><path d="M377.10,16.80 C377.81,16.92 381.04,17.49 382.40,17.70 C383.76,17.91 386.15,18.31 387.30,18.40 C388.45,18.49 390.01,18.29 391.00,18.40 C391.99,18.51 393.82,19.20 394.70,19.20 C395.58,19.20 396.95,18.44 397.60,18.40 C398.25,18.36 399.01,18.99 399.60,18.90 C400.19,18.81 401.35,17.83 402.00,17.70 C402.65,17.57 403.83,17.81 404.50,17.90 C405.17,17.99 406.35,18.23 407.00,18.40 C407.65,18.57 408.75,19.03 409.40,19.20 C410.05,19.37 411.25,19.58 411.90,19.70 C412.55,19.82 413.58,19.94 414.30,20.10 C415.02,20.26 416.65,20.63 417.30,20.90 C417.95,21.17 418.61,21.77 419.20,22.10 C419.79,22.43 421.05,22.91 421.70,23.40 C422.35,23.89 423.45,24.89 424.10,25.80 C424.75,26.71 425.93,29.08 426.60,30.20 C427.27,31.32 428.29,33.25 429.10,34.20 C429.91,35.15 431.73,36.55 432.70,37.30 C433.67,38.05 435.41,39.20 436.40,39.80 C437.39,40.40 438.99,41.29 440.10,41.80 C441.21,42.31 443.71,43.36 444.70,43.60 C445.69,43.84 446.83,43.68 447.50,43.60 C448.17,43.52 449.10,43.24 449.70,43.00 C450.30,42.76 451.35,42.13 452.00,41.80 C452.65,41.47 453.87,40.82 454.60,40.50 C455.33,40.18 456.85,39.55 457.50,39.40 C458.15,39.25 459.03,39.19 459.50,39.40 C459.97,39.61 460.61,40.36 461.00,41.00 C461.39,41.64 462.03,43.13 462.40,44.20 C462.77,45.27 463.47,48.01 463.80,49.00 C464.13,49.99 464.61,51.60 464.90,51.60 C465.19,51.60 465.68,49.81 466.00,49.00 C466.32,48.19 466.99,45.87 467.30,45.50 C467.61,45.13 468.03,45.97 468.30,46.20 C468.57,46.43 469.01,47.36 469.30,47.20 C469.59,47.04 470.17,45.56 470.50,45.00 C470.83,44.44 471.40,43.67 471.80,43.00 C472.20,42.33 473.01,40.65 473.50,40.00 C473.99,39.35 474.83,38.55 475.50,38.10 C476.17,37.65 477.69,36.93 478.50,36.60 C479.31,36.27 480.73,35.89 481.60,35.60 C482.47,35.31 484.01,34.72 485.00,34.40 C485.99,34.08 487.73,33.63 489.00,33.20 C490.27,32.77 493.03,31.69 494.50,31.20 C495.97,30.71 497.93,30.11 500.00,29.50 C502.07,28.89 507.39,27.36 510.00,26.60 C512.61,25.84 516.67,24.47 519.60,23.80 C522.53,23.13 528.73,22.15 532.00,21.60 C535.27,21.05 541.70,20.10 544.10,19.70 C546.50,19.30 548.52,18.89 550.00,18.60 C551.48,18.31 554.20,17.55 555.20,17.50 C556.20,17.45 556.94,17.73 557.50,18.20 C558.06,18.67 558.93,20.03 559.40,21.00 C559.87,21.97 560.57,24.17 561.00,25.50 C561.43,26.83 562.16,29.47 562.60,31.00 C563.04,32.53 563.85,35.56 564.30,37.00 C564.75,38.44 565.51,40.20 566.00,41.80 C566.49,43.40 567.51,47.04 568.00,49.00 C568.49,50.96 569.27,54.77 569.70,56.50 C570.13,58.23 570.81,60.69 571.20,62.00 C571.59,63.31 572.25,65.79 572.60,66.30 C572.95,66.81 573.51,66.17 573.80,65.80 C574.09,65.43 574.51,64.34 574.80,63.50 C575.09,62.66 575.71,60.43 576.00,59.50 C576.29,58.57 576.73,57.26 577.00,56.50 C577.27,55.74 577.73,54.29 578.00,53.80 C578.27,53.31 578.73,52.64 579.00,52.80 C579.27,52.96 579.77,54.67 580.00,55.00 C580.23,55.33 580.45,56.03 580.70,55.30 C580.95,54.57 581.62,49.70 581.90,49.50 C582.18,49.30 582.56,53.20 582.80,53.80 C583.04,54.40 583.46,54.24 583.70,54.00 C583.94,53.76 584.35,52.16 584.60,52.00 C584.85,51.84 585.28,52.43 585.60,52.80 C585.92,53.17 586.67,54.47 587.00,54.80 C587.33,55.13 587.70,55.43 588.10,55.30 C588.50,55.17 589.51,54.13 590.00,53.80 C590.49,53.47 591.33,53.07 591.80,52.80 C592.27,52.53 593.01,52.12 593.50,51.80 C593.99,51.48 594.99,50.31 595.50,50.40 C596.01,50.49 596.82,52.02 597.30,52.50 C597.78,52.98 598.61,53.91 599.10,54.00 C599.59,54.09 600.51,53.52 601.00,53.20 C601.49,52.88 602.28,52.31 602.80,51.60 C603.32,50.89 604.34,48.65 604.90,47.90 C605.46,47.15 606.35,46.49 607.00,46.00 C607.65,45.51 609.20,44.67 609.80,44.20 C610.40,43.73 611.11,42.99 611.50,42.50 C611.89,42.01 612.27,41.25 612.70,40.50 C613.13,39.75 614.23,37.46 614.70,36.90 C615.17,36.34 615.71,36.14 616.20,36.30 C616.69,36.46 617.87,38.34 618.40,38.10 C618.93,37.86 619.71,35.33 620.20,34.50 C620.69,33.67 621.46,32.57 622.10,31.90 C622.74,31.23 624.01,30.31 625.00,29.50 C625.99,28.69 628.57,26.13 629.50,25.80 C630.43,25.47 631.35,26.51 632.00,27.00 C632.65,27.49 633.73,29.29 634.40,29.50 C635.07,29.71 636.01,28.93 637.00,28.60 C637.99,28.27 640.60,27.21 641.80,27.00 C643.00,26.79 644.69,27.00 646.00,27.00 C647.31,27.00 650.27,27.19 651.60,27.00 C652.93,26.81 654.69,26.25 656.00,25.60 C657.31,24.95 660.20,22.81 661.40,22.10 C662.60,21.39 663.92,20.79 665.00,20.30 C666.08,19.81 668.90,18.65 669.50,18.40" stroke="#d6186f"/><path d="M377.10,64.40 C377.49,64.48 378.97,64.84 380.00,65.00 C381.03,65.16 383.47,65.49 384.80,65.60 C386.13,65.71 388.68,65.85 390.00,65.80 C391.32,65.75 393.77,65.33 394.70,65.20 C395.63,65.07 396.35,64.93 397.00,64.80 C397.65,64.67 399.11,64.32 399.60,64.20 C400.09,64.08 400.34,63.89 400.70,63.90 C401.06,63.91 401.95,64.15 402.30,64.30 C402.65,64.45 403.02,64.60 403.30,65.00 C403.58,65.40 404.11,66.70 404.40,67.30 C404.69,67.90 404.94,68.53 405.50,69.50 C406.06,70.47 407.87,73.56 408.60,74.60 C409.33,75.64 410.35,76.65 411.00,77.30 C411.65,77.95 412.51,78.71 413.50,79.50 C414.49,80.29 417.43,82.44 418.40,83.20 C419.37,83.96 420.15,84.55 420.80,85.20 C421.45,85.85 422.63,87.35 423.30,88.10 C423.97,88.85 425.13,90.15 425.80,90.80 C426.47,91.45 427.61,92.53 428.30,93.00 C428.99,93.47 430.19,94.03 431.00,94.30 C431.81,94.57 433.47,94.85 434.40,95.00 C435.33,95.15 437.01,95.33 438.00,95.40 C438.99,95.47 440.80,95.61 441.80,95.50 C442.80,95.39 444.53,94.93 445.50,94.60 C446.47,94.27 448.23,93.45 449.10,93.00 C449.97,92.55 451.21,91.63 452.00,91.20 C452.79,90.77 454.12,90.05 455.00,89.80 C455.88,89.55 457.87,89.27 458.60,89.30 C459.33,89.33 460.07,89.51 460.50,90.00 C460.93,90.49 461.47,91.87 461.80,93.00 C462.13,94.13 462.67,97.09 463.00,98.50 C463.33,99.91 463.97,103.47 464.30,103.60 C464.63,103.73 465.18,100.75 465.50,99.50 C465.82,98.25 466.42,94.87 466.70,94.20 C466.98,93.53 467.37,94.33 467.60,94.50 C467.83,94.67 468.19,95.57 468.40,95.50 C468.61,95.43 468.97,94.49 469.20,94.00 C469.43,93.51 469.71,92.75 470.10,91.80 C470.49,90.85 471.51,87.91 472.10,86.90 C472.69,85.89 473.85,84.85 474.50,84.20 C475.15,83.55 476.00,82.52 477.00,82.00 C478.00,81.48 480.68,80.70 482.00,80.30 C483.32,79.90 485.43,79.47 486.90,79.00 C488.37,78.53 491.37,77.39 493.00,76.80 C494.63,76.21 497.63,75.11 499.10,74.60 C500.57,74.09 502.68,73.40 504.00,73.00 C505.32,72.60 507.53,72.01 509.00,71.60 C510.47,71.19 513.53,70.25 515.00,69.90 C516.47,69.55 518.36,69.33 520.00,69.00 C521.64,68.67 525.57,67.75 527.30,67.40 C529.03,67.05 531.36,66.69 533.00,66.40 C534.64,66.11 537.93,65.47 539.60,65.20 C541.27,64.93 543.86,64.63 545.50,64.40 C547.14,64.17 550.63,63.63 551.90,63.50 C553.17,63.37 554.35,63.33 555.00,63.40 C555.65,63.47 556.37,63.73 556.80,64.00 C557.23,64.27 557.88,64.97 558.20,65.40 C558.52,65.83 558.91,66.52 559.20,67.20 C559.49,67.88 560.07,69.51 560.40,70.50 C560.73,71.49 561.29,73.27 561.70,74.60 C562.11,75.93 563.01,78.71 563.50,80.50 C563.99,82.29 564.99,86.27 565.40,88.00 C565.81,89.73 566.28,92.03 566.60,93.50 C566.92,94.97 567.40,97.13 567.80,99.00 C568.20,100.87 569.17,105.70 569.60,107.50 C570.03,109.30 570.63,111.30 571.00,112.50 C571.37,113.70 572.11,115.61 572.40,116.50 C572.69,117.39 572.97,118.53 573.20,119.20 C573.43,119.87 573.83,121.42 574.10,121.50 C574.37,121.58 574.83,121.07 575.20,119.80 C575.57,118.53 576.53,113.91 576.90,112.00 C577.27,110.09 577.69,105.70 578.00,105.50 C578.31,105.30 578.89,110.38 579.20,110.50 C579.51,110.62 580.01,107.80 580.30,106.40 C580.59,105.00 581.15,100.52 581.40,100.00 C581.65,99.48 582.00,101.81 582.20,102.50 C582.40,103.19 582.70,104.44 582.90,105.20 C583.10,105.96 583.45,108.27 583.70,108.20 C583.95,108.13 584.55,104.93 584.80,104.70 C585.05,104.47 585.37,105.86 585.60,106.50 C585.83,107.14 586.23,109.23 586.50,109.50 C586.77,109.77 587.31,108.85 587.60,108.50 C587.89,108.15 588.31,107.37 588.70,106.90 C589.09,106.43 590.05,105.52 590.50,105.00 C590.95,104.48 591.57,103.73 592.10,103.00 C592.63,102.27 593.93,100.37 594.50,99.50 C595.07,98.63 595.93,96.63 596.40,96.50 C596.87,96.37 597.63,97.90 598.00,98.50 C598.37,99.10 598.73,100.73 599.20,101.00 C599.67,101.27 600.90,101.02 601.50,100.50 C602.10,99.98 603.10,98.30 603.70,97.10 C604.30,95.90 605.40,92.55 606.00,91.50 C606.60,90.45 607.73,89.27 608.20,89.20 C608.67,89.13 609.19,90.40 609.50,91.00 C609.81,91.60 610.14,93.94 610.50,93.70 C610.86,93.46 611.80,90.36 612.20,89.20 C612.60,88.04 613.13,86.04 613.50,85.00 C613.87,83.96 614.51,82.04 615.00,81.40 C615.49,80.76 616.68,80.12 617.20,80.20 C617.72,80.28 618.53,82.00 618.90,82.00 C619.27,82.00 619.65,81.09 620.00,80.20 C620.35,79.31 621.05,76.33 621.50,75.30 C621.95,74.27 622.89,73.18 623.40,72.50 C623.91,71.82 624.71,70.69 625.30,70.20 C625.89,69.71 627.13,69.04 627.80,68.80 C628.47,68.56 629.67,68.17 630.30,68.40 C630.93,68.63 631.82,69.75 632.50,70.50 C633.18,71.25 634.69,73.64 635.40,74.00 C636.11,74.36 637.13,73.44 637.80,73.20 C638.47,72.96 639.44,72.23 640.40,72.20 C641.36,72.17 643.65,72.83 645.00,73.00 C646.35,73.17 649.23,73.54 650.50,73.50 C651.77,73.46 653.49,72.97 654.50,72.70 C655.51,72.43 657.23,71.86 658.10,71.50 C658.97,71.14 660.32,70.44 661.00,70.00 C661.68,69.56 662.47,68.65 663.20,68.20 C663.93,67.75 665.66,67.00 666.50,66.60 C667.34,66.20 669.10,65.39 669.50,65.20" stroke="#2f88d8"/><path d="M377.10,116.00 C378.46,116.03 384.30,116.13 387.30,116.20 C390.30,116.27 397.71,116.39 399.60,116.50 C401.49,116.61 401.07,116.73 401.50,117.00 C401.93,117.27 402.47,117.82 402.80,118.50 C403.13,119.18 403.61,120.63 404.00,122.10 C404.39,123.57 405.14,126.87 405.70,129.50 C406.26,132.13 407.67,139.20 408.20,141.80 C408.73,144.40 409.38,147.37 409.70,149.00 C410.02,150.63 410.27,152.56 410.60,154.00 C410.93,155.44 411.81,158.33 412.20,159.80 C412.59,161.27 413.17,163.68 413.50,165.00 C413.83,166.32 414.30,168.30 414.70,169.70 C415.10,171.10 416.02,174.03 416.50,175.50 C416.98,176.97 417.83,179.57 418.30,180.70 C418.77,181.83 419.51,183.17 420.00,184.00 C420.49,184.83 421.47,186.23 422.00,186.90 C422.53,187.57 423.51,188.53 424.00,189.00 C424.49,189.47 425.23,190.29 425.70,190.40 C426.17,190.51 427.01,190.01 427.50,189.80 C427.99,189.59 428.80,189.15 429.40,188.80 C430.00,188.45 431.35,187.63 432.00,187.20 C432.65,186.77 433.50,186.13 434.30,185.60 C435.10,185.07 437.01,183.85 438.00,183.20 C438.99,182.55 440.87,181.29 441.70,180.70 C442.53,180.11 443.55,179.29 444.20,178.80 C444.85,178.31 445.96,177.64 446.60,177.00 C447.24,176.36 448.35,174.81 449.00,174.00 C449.65,173.19 450.90,171.54 451.50,170.90 C452.10,170.26 453.01,169.53 453.50,169.20 C453.99,168.87 454.73,168.45 455.20,168.40 C455.67,168.35 456.57,168.59 457.00,168.80 C457.43,169.01 458.08,169.31 458.40,170.00 C458.72,170.69 459.17,172.73 459.40,174.00 C459.63,175.27 459.89,177.90 460.10,179.50 C460.31,181.10 460.77,184.36 461.00,186.00 C461.23,187.64 461.56,190.27 461.80,191.80 C462.04,193.33 462.53,196.03 462.80,197.50 C463.07,198.97 463.55,201.75 463.80,202.80 C464.05,203.85 464.47,205.31 464.70,205.40 C464.93,205.49 465.30,204.75 465.50,203.50 C465.70,202.25 465.99,198.53 466.20,196.00 C466.41,193.47 466.90,186.77 467.10,184.50 C467.30,182.23 467.54,179.99 467.70,179.00 C467.86,178.01 468.13,177.17 468.30,177.10 C468.47,177.03 468.83,178.17 469.00,178.50 C469.17,178.83 469.44,179.49 469.60,179.60 C469.76,179.71 470.04,179.47 470.20,179.30 C470.36,179.13 470.64,178.94 470.80,178.30 C470.96,177.66 471.24,175.65 471.40,174.50 C471.56,173.35 471.85,171.17 472.00,169.70 C472.15,168.23 472.35,165.06 472.50,163.50 C472.65,161.94 472.90,159.47 473.10,158.00 C473.30,156.53 473.77,153.69 474.00,152.50 C474.23,151.31 474.47,149.90 474.80,149.10 C475.13,148.30 476.01,147.09 476.50,146.50 C476.99,145.91 477.90,145.09 478.50,144.70 C479.10,144.31 480.35,143.83 481.00,143.60 C481.65,143.37 482.67,143.17 483.40,143.00 C484.13,142.83 485.67,142.53 486.50,142.30 C487.33,142.07 488.67,141.77 489.60,141.30 C490.53,140.83 492.51,139.56 493.50,138.80 C494.49,138.04 496.07,136.51 497.00,135.60 C497.93,134.69 499.53,132.97 500.50,132.00 C501.47,131.03 503.46,129.07 504.30,128.30 C505.14,127.53 506.15,126.69 506.80,126.20 C507.45,125.71 508.37,125.04 509.20,124.60 C510.03,124.16 512.01,123.30 513.00,122.90 C513.99,122.50 515.60,122.04 516.60,121.60 C517.60,121.16 519.51,120.09 520.50,119.60 C521.49,119.11 522.87,118.19 524.00,117.90 C525.13,117.61 527.53,117.49 529.00,117.40 C530.47,117.31 533.23,117.28 535.00,117.20 C536.77,117.12 540.70,116.91 542.30,116.80 C543.90,116.69 545.69,116.51 547.00,116.40 C548.31,116.29 551.23,116.03 552.10,116.00 C552.97,115.97 553.17,116.03 553.50,116.20 C553.83,116.37 554.36,116.79 554.60,117.30 C554.84,117.81 555.13,119.03 555.30,120.00 C555.47,120.97 555.74,123.20 555.90,124.60 C556.06,126.00 556.35,128.86 556.50,130.50 C556.65,132.14 556.84,135.23 557.00,136.90 C557.16,138.57 557.53,141.37 557.70,143.00 C557.87,144.63 558.14,147.50 558.30,149.10 C558.46,150.70 558.74,153.36 558.90,155.00 C559.06,156.64 559.33,159.40 559.50,161.40 C559.67,163.40 560.01,167.52 560.20,170.00 C560.39,172.48 560.70,176.80 560.90,180.00 C561.10,183.20 561.51,190.93 561.70,194.00 C561.89,197.07 562.15,201.15 562.30,203.00 C562.45,204.85 562.61,206.93 562.80,207.90 C562.99,208.87 563.45,210.55 563.70,210.30 C563.95,210.05 564.49,207.37 564.70,206.00 C564.91,204.63 565.14,201.55 565.30,200.00 C565.46,198.45 565.71,195.53 565.90,194.40 C566.09,193.27 566.47,191.99 566.70,191.50 C566.93,191.01 567.37,190.70 567.60,190.70 C567.83,190.70 568.20,191.17 568.40,191.50 C568.60,191.83 568.90,192.47 569.10,193.20 C569.30,193.93 569.70,196.03 569.90,197.00 C570.10,197.97 570.39,199.70 570.60,200.50 C570.81,201.30 571.29,202.80 571.50,203.00 C571.71,203.20 572.03,202.49 572.20,202.00 C572.37,201.51 572.64,200.50 572.80,199.30 C572.96,198.10 573.24,194.96 573.40,193.00 C573.56,191.04 573.85,186.87 574.00,184.60 C574.15,182.33 574.37,178.29 574.50,176.00 C574.63,173.71 574.85,169.53 575.00,167.40 C575.15,165.27 575.43,161.57 575.60,160.00 C575.77,158.43 576.11,155.87 576.30,155.60 C576.49,155.33 576.85,157.01 577.00,158.00 C577.15,158.99 577.27,160.87 577.40,163.00 C577.53,165.13 577.83,171.12 578.00,174.00 C578.17,176.88 578.54,182.13 578.70,184.60 C578.86,187.07 579.08,190.85 579.20,192.50 C579.32,194.15 579.48,196.09 579.60,197.00 C579.72,197.91 579.97,199.83 580.10,199.30 C580.23,198.77 580.47,194.96 580.60,193.00 C580.73,191.04 580.95,186.53 581.10,184.60 C581.25,182.67 581.54,179.45 581.70,178.50 C581.86,177.55 582.14,176.90 582.30,177.50 C582.46,178.10 582.77,181.60 582.90,183.00 C583.03,184.40 583.18,186.20 583.30,188.00 C583.42,189.80 583.67,195.57 583.80,196.50 C583.93,197.43 584.17,195.61 584.30,195.00 C584.43,194.39 584.64,192.97 584.80,191.90 C584.96,190.83 585.30,188.31 585.50,187.00 C585.70,185.69 586.07,182.70 586.30,182.10 C586.53,181.50 586.97,182.34 587.20,182.50 C587.43,182.66 587.81,183.63 588.00,183.30 C588.19,182.97 588.44,180.65 588.60,180.00 C588.76,179.35 588.99,178.33 589.20,178.40 C589.41,178.47 589.93,179.85 590.20,180.50 C590.47,181.15 590.84,182.43 591.20,183.30 C591.56,184.17 592.53,186.31 592.90,187.00 C593.27,187.69 593.67,188.17 594.00,188.50 C594.33,188.83 595.09,188.97 595.40,189.50 C595.71,190.03 596.07,191.51 596.30,192.50 C596.53,193.49 596.86,195.70 597.10,196.90 C597.34,198.10 597.85,200.35 598.10,201.50 C598.35,202.65 598.75,204.59 599.00,205.50 C599.25,206.41 599.73,207.65 600.00,208.30 C600.27,208.95 600.71,209.71 601.00,210.40 C601.29,211.09 601.95,212.75 602.20,213.50 C602.45,214.25 602.73,215.76 602.90,216.00 C603.07,216.24 603.31,215.70 603.50,215.30 C603.69,214.90 604.07,213.57 604.30,213.00 C604.53,212.43 604.97,212.13 605.20,211.00 C605.43,209.87 605.77,205.90 606.00,204.50 C606.23,203.10 606.63,201.90 606.90,200.50 C607.17,199.10 607.72,195.05 608.00,194.00 C608.28,192.95 608.72,193.00 609.00,192.60 C609.28,192.20 609.79,191.28 610.10,191.00 C610.41,190.72 610.97,191.17 611.30,190.50 C611.63,189.83 612.27,187.27 612.60,186.00 C612.93,184.73 613.51,182.87 613.80,181.00 C614.09,179.13 614.49,174.52 614.80,172.00 C615.11,169.48 615.78,163.23 616.10,162.10 C616.42,160.97 616.91,163.07 617.20,163.50 C617.49,163.93 617.99,166.03 618.30,165.30 C618.61,164.57 619.17,159.91 619.50,158.00 C619.83,156.09 620.41,152.40 620.80,151.00 C621.19,149.60 621.97,148.34 622.40,147.50 C622.83,146.66 623.59,145.39 624.00,144.70 C624.41,144.01 625.09,142.93 625.50,142.30 C625.91,141.67 626.67,140.44 627.10,140.00 C627.53,139.56 628.27,139.21 628.70,139.00 C629.13,138.79 629.91,138.27 630.30,138.40 C630.69,138.53 631.27,139.36 631.60,140.00 C631.93,140.64 632.49,142.33 632.80,143.20 C633.11,144.07 633.61,145.66 633.90,146.50 C634.19,147.34 634.65,149.70 635.00,149.50 C635.35,149.30 636.07,146.27 636.50,145.00 C636.93,143.73 637.76,140.60 638.20,140.00 C638.64,139.40 639.39,140.29 639.80,140.50 C640.21,140.71 640.87,141.67 641.30,141.60 C641.73,141.53 642.57,140.35 643.00,140.00 C643.43,139.65 644.10,138.96 644.50,139.00 C644.90,139.04 645.59,139.95 646.00,140.30 C646.41,140.65 647.07,141.51 647.60,141.60 C648.13,141.69 649.36,141.13 650.00,141.00 C650.64,140.87 651.73,140.73 652.40,140.60 C653.07,140.47 654.37,140.16 655.00,140.00 C655.63,139.84 656.57,139.87 657.10,139.40 C657.63,138.93 658.45,137.47 659.00,136.50 C659.55,135.53 660.67,132.94 661.20,132.10 C661.73,131.26 662.49,130.63 663.00,130.20 C663.51,129.77 664.47,129.53 665.00,128.90 C665.53,128.27 666.40,126.42 667.00,125.50 C667.60,124.58 669.17,122.47 669.50,122.00" stroke="#17a150"/></g><rect x="377.1" y="6.2" width="292.4" height="235.4" fill="none" stroke="#000" stroke-width="1.8"/><path d="M653.26,241.6 V244.79999999999998 M604.52,241.6 V244.79999999999998 M555.79,241.6 V244.79999999999998 M507.06,241.6 V244.79999999999998 M458.32,241.6 V244.79999999999998 M409.59,241.6 V244.79999999999998" stroke="#000" stroke-width="1.4" fill="none"/><text x="653.26" y="258.8" font-size="15.3" fill="#000" text-anchor="middle" >600</text><text x="604.52" y="258.8" font-size="15.3" fill="#000" text-anchor="middle" >1200</text><text x="555.79" y="258.8" font-size="15.3" fill="#000" text-anchor="middle" >1800</text><text x="507.06" y="258.8" font-size="15.3" fill="#000" text-anchor="middle" >2400</text><text x="458.32" y="258.8" font-size="15.3" fill="#000" text-anchor="middle" >3000</text><text x="409.59" y="258.8" font-size="15.3" fill="#000" text-anchor="middle" >3600</text><text x="523.2" y="279.9" font-size="19.0" text-anchor="middle">Wavenumber (cm<tspan font-size="11" dy="-7.5">-1</tspan><tspan dy="7.5" dx="3">)</tspan></text><text x="381.4" y="33.8" font-size="13.8" fill="#d6186f" text-anchor="start" >I</text><text x="380.9" y="82.7" font-size="13.8" fill="#2f88d8" text-anchor="start" >II</text><text x="380.6" y="132.2" font-size="13.8" fill="#17a150" text-anchor="start" >III</text><text x="436.0" y="64.4" font-size="12.8" fill="#000" text-anchor="start" >3190</text><text x="383.4" y="207.5" font-size="12.8" fill="#000" text-anchor="start" >3393</text><text x="484.2" y="196.8" font-size="12.8" fill="#000" text-anchor="start" >2858</text><text x="484.2" y="221.8" font-size="12.8" fill="#000" text-anchor="start" >2931</text><text x="522.0" y="222.6" font-size="12.8" fill="#000" text-anchor="start" >1710</text><text x="552.0" y="232.9" font-size="12.8" fill="#000" text-anchor="start" >1603</text><text x="585.6" y="137.1" font-size="12.8" fill="#000" text-anchor="start" >1580</text><text x="623.0" y="221.9" font-size="12.8" fill="#000" text-anchor="start" >1221</text><path d="M452.20,53.40 L446.54,48.28" stroke="#000" stroke-width="1.1" fill="none"/><path d="M443.80,45.80 L448.46,46.91 L445.37,50.32 Z" fill="#000"/><path d="M411.40,199.40 L420.85,194.97" stroke="#000" stroke-width="1.1" fill="none"/><path d="M424.20,193.40 L421.37,197.27 L419.42,193.10 Z" fill="#000"/><path d="M481.90,190.80 L476.67,184.96" stroke="#000" stroke-width="1.1" fill="none"/><path d="M474.20,182.20 L478.72,183.79 L475.29,186.86 Z" fill="#000"/><path d="M476.40,216.60 L468.74,209.68" stroke="#000" stroke-width="1.1" fill="none"/><path d="M466.00,207.20 L470.66,208.31 L467.57,211.72 Z" fill="#000"/><path d="M551.30,219.50 L559.26,214.55" stroke="#000" stroke-width="1.1" fill="none"/><path d="M562.40,212.60 L560.05,216.77 L557.62,212.86 Z" fill="#000"/><path d="M567.90,218.70 L571.54,210.20" stroke="#000" stroke-width="1.1" fill="none"/><path d="M573.00,206.80 L573.46,211.57 L569.23,209.75 Z" fill="#000"/><path d="M583.30,131.80 L578.68,127.74" stroke="#000" stroke-width="1.1" fill="none"/><path d="M575.90,125.30 L580.57,126.34 L577.54,129.80 Z" fill="#000"/><path d="M620.40,217.70 L611.00,217.70" stroke="#000" stroke-width="1.1" fill="none"/><path d="M607.30,217.70 L611.50,215.40 L611.50,220.00 Z" fill="#000"/></svg>
</body></html>
